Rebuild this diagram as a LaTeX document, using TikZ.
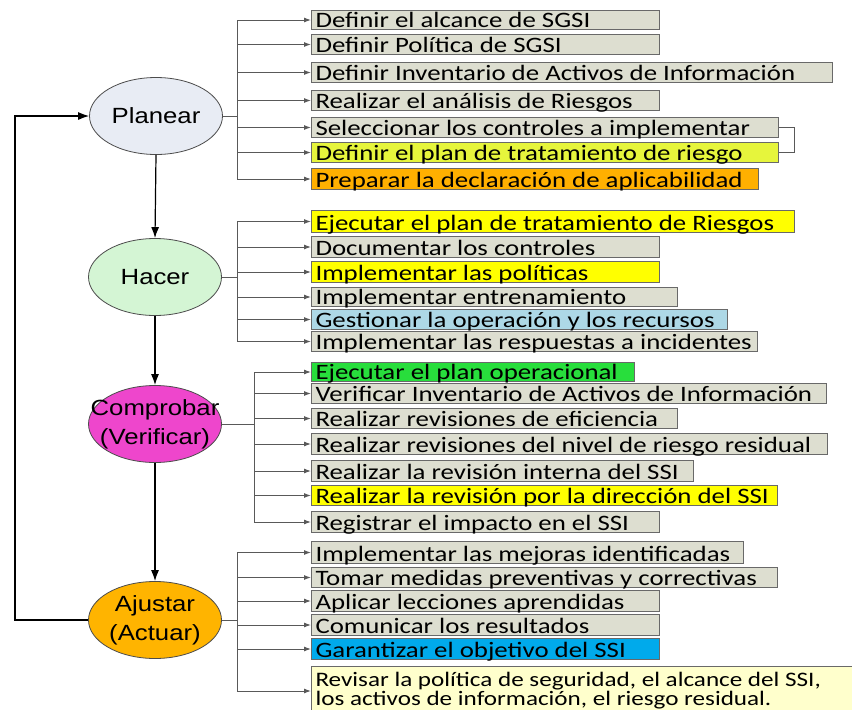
\documentclass[tikz,border=0pt]{standalone}
\usepackage{fontspec}
\setmainfont{Carlito}[FakeStretch=1.22]
\newfontfamily\ellfont{Liberation Sans}[FakeStretch=1.17]
\usetikzlibrary{arrows.meta,shapes.geometric}
\definecolor{boxgray}{RGB}{221,222,208}
\definecolor{boxline}{RGB}{105,105,105}
\definecolor{ygreen}{RGB}{230,245,60}
\definecolor{orng}{RGB}{255,176,0}
\definecolor{yel}{RGB}{255,255,0}
\definecolor{lblue}{RGB}{173,216,230}
\definecolor{grn}{RGB}{40,222,60}
\definecolor{blu}{RGB}{0,170,235}
\definecolor{lyel}{RGB}{255,255,204}
\definecolor{planfill}{RGB}{232,236,244}
\definecolor{hacfill}{RGB}{212,245,212}
\definecolor{compfill}{RGB}{238,70,204}
\definecolor{ajufill}{RGB}{255,180,0}
\tikzset{
  bx/.style={draw=boxline,line width=1pt,anchor=north west,inner xsep=4pt,inner ysep=0pt,
    font=\fontsize{22}{22}\selectfont,text depth=2pt},
  ell/.style={ellipse,draw=black!70,line width=0.8pt,minimum width=133pt,minimum height=77pt,
    inner sep=0pt,align=center,font=\ellfont\fontsize{22}{29}\selectfont},
  br/.style={draw=black!65,line width=1pt,-{Latex[length=7pt,width=5pt]}},
  bus/.style={draw=black!65,line width=1pt},
  mainarr/.style={draw=black,line width=1.2pt,-{Latex[length=11pt,width=8pt]}}
}
\newcommand\bx[6]{%
  \pgfmathsetmacro\bxh{#3-#2}%
  \pgfmathsetmacro\bxth{#3-#2-2}%
  \pgfmathsetmacro\bxtw{#4-311-8}%
  \node[bx,fill=#5,minimum height=\bxh pt,text height=\bxth pt] (#1) at (311,#2) {\hbox to \bxtw pt{#6\hfil}};%
}
\begin{document}
\begin{tikzpicture}[x=1pt,y=-1pt]
\fill[white] (0,0) rectangle (852,710);
\useasboundingbox (0,0) rectangle (852,710);

% ellipses
\node[ell,fill=planfill] (P) at (156,116) {\makebox[0pt]{Planear}};
\node[ell,fill=hacfill] (H) at (155,277) {\makebox[0pt]{Hacer}};
\node[ell,fill=compfill] (C) at (155,424) {\makebox[0pt]{Comprobar}\\\makebox[0pt]{(Verificar)}};
\node[ell,fill=ajufill] (A) at (155,620) {\makebox[0pt]{Ajustar}\\\makebox[0pt]{(Actuar)}};

% Planear boxes
\bx{p1}{10}{29}{659}{boxgray}{Definir el alcance de SGSI}
\bx{p2}{34}{54}{659}{boxgray}{Definir Política de SGSI}
\bx{p3}{62}{82}{832}{boxgray}{Definir Inventario de Activos de Información}
\bx{p4}{90}{110}{659}{boxgray}{Realizar el análisis de Riesgos}
\bx{p5}{117}{137}{778}{boxgray}{Seleccionar los controles a implementar}
\bx{p6}{142}{162}{778}{ygreen}{Definir el plan de tratamiento de riesgo}
\bx{p7}{168}{189}{758}{orng}{Preparar la declaración de aplicabilidad}

% Hacer boxes
\bx{h1}{210}{232}{794}{yel}{Ejecutar el plan de tratamiento de Riesgos}
\bx{h2}{236}{257}{659}{boxgray}{Documentar los controles}
\bx{h3}{261}{282}{659}{yel}{Implementar las políticas}
\bx{h4}{287}{306}{677}{boxgray}{Implementar entrenamiento}
\bx{h5}{309}{329}{727}{lblue}{Gestionar la operación y los recursos}
\bx{h6}{331}{351}{757}{boxgray}{Implementar las respuestas a incidentes}

% Comprobar boxes
\bx{c1}{362}{381}{634}{grn}{Ejecutar el plan operacional}
\bx{c2}{383}{403}{826}{boxgray}{Verificar Inventario de Activos de Información}
\bx{c3}{408}{428}{677}{boxgray}{Realizar revisiones de eficiencia}
\bx{c4}{433}{454}{827}{boxgray}{Realizar revisiones del nivel de riesgo residual}
\bx{c5}{460}{481}{693}{boxgray}{Realizar la revisión interna del SSI}
\bx{c6}{485}{505}{777}{yel}{Realizar la revisión por la dirección del SSI}
\bx{c7}{511}{532}{659}{boxgray}{Registrar el impacto en el SSI}

% Ajustar boxes
\bx{a1}{541}{563}{743}{boxgray}{Implementar las mejoras identificadas}
\bx{a2}{567}{587}{777}{boxgray}{Tomar medidas preventivas y correctivas}
\bx{a3}{590}{611}{659}{boxgray}{Aplicar lecciones aprendidas}
\bx{a4}{614}{635}{659}{boxgray}{Comunicar los resultados}
\bx{a5}{638}{659}{659}{blu}{Garantizar el objetivo del SSI}
\node[bx,fill=lyel,font=\fontsize{20.6}{13}\selectfont,minimum width=550pt,text height=20pt,text depth=40pt,anchor=north west] (a6) at (311,666)
  {\vtop{\baselineskip=13pt\hbox to 542pt{Revisar la política de seguridad, el alcance del SSI,\hfil}\hbox{los activos de información, el riesgo residual.}}};

% bus coordinates
\coordinate (bp) at (237,0);
\coordinate (bh) at (237,0);
\coordinate (bc) at (254,0);
\coordinate (ba) at (237,0);
\coordinate (lp) at (15,0);

% Planear connectors
\draw[bus] (P.east) -- (bp |- P.east);
\draw[bus] (bp |- p1.west) -- (bp |- p7.west);
\foreach \b in {p1,p2,p3,p4,p5,p6,p7} \draw[br] (bp |- \b.west) -- (\b.west);
\draw[bus] (p5.east) -- ++(15,0) |- (p6.east);

% Hacer connectors
\draw[bus] (H.east) -- (bh |- H.east);
\draw[bus] (bh |- h1.west) -- (bh |- h6.west);
\foreach \b in {h1,h2,h3,h4,h5,h6} \draw[br] (bh |- \b.west) -- (\b.west);

% Comprobar connectors
\draw[bus] (C.east) -- (bc |- C.east);
\draw[bus] (bc |- c1.west) -- (bc |- c7.west);
\foreach \b in {c1,c2,c3,c4,c5,c6,c7} \draw[br] (bc |- \b.west) -- (\b.west);

% Ajustar connectors
\coordinate (a6in) at (311,691);
\draw[bus] (A.east) -- (ba |- A.east);
\draw[bus] (ba |- a1.west) -- (ba |- a6in);
\foreach \b in {a1,a2,a3,a4,a5} \draw[br] (ba |- \b.west) -- (\b.west);
\draw[br] (ba |- a6in) -- (a6in);

% main flow
\draw[mainarr] (P.south) -- (H.north);
\draw[mainarr] (H.south) -- (C.north);
\draw[mainarr] (C.south) -- (A.north);
\draw[mainarr] (A.west) -- (lp |- A.west) -- (lp |- P.west) -- (P.west);
\end{tikzpicture}
\end{document}
